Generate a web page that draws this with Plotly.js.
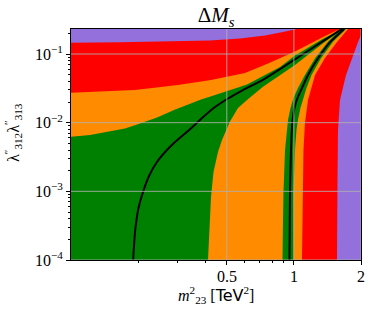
<!DOCTYPE html>
<html><head><meta charset="utf-8">
<script src="https://cdn.plot.ly/plotly-3.0.1.min.js"></script>
<style>html,body{margin:0;padding:0;background:#fff}</style>
</head><body><div id="chart" style="width:374px;height:316px"></div>
<script>
// axis limits
const xLimits = [0.1, 2];
const yLimits = [1e-4, 0.2314];
const xTicks = [0.5, 1, 2];
const xTickText = ['0.5', '1', '2'];
const xMinorTicks = [0.2, 0.3, 0.4, 0.6, 0.7, 0.8, 0.9];
const yTicks = [1e-4, 1e-3, 1e-2, 1e-1];
const yTickText = ['10<sup>−4</sup>', '10<sup>−3</sup>', '10<sup>−2</sup>', '10<sup>−1</sup>'];

// 3σ boundary (red | purple): upper-left branch and right branch
const redTopX = [0.1, 0.1659, 0.2781, 0.4204, 0.5731, 0.742, 0.8934, 1.033];
const redTopY = [0.1462, 0.1487, 0.1522, 0.1574, 0.1683, 0.1861, 0.2093, 0.2314];
const redRightX = [2.0, 1.940, 1.823, 1.713, 1.610, 1.577, 1.569, 1.561];
const redRightY = [0.1892, 0.1497, 0.0875, 0.0495, 0.0214, 0.00782, 0.00146, 0.0001];

// 2σ boundary (orange | red)
const orangeTopX = [0.1, 0.1937, 0.302, 0.4248, 0.6034, 0.7653, 1.011, 1.351, 1.610];
const orangeTopY = [0.0273, 0.0299, 0.0354, 0.0418, 0.0529, 0.0728, 0.1088, 0.1770, 0.2314];
const orangeRightX = [1.749, 1.561, 1.379, 1.244, 1.157, 1.121, 1.104, 1.093, 1.087];
const orangeRightY = [0.2314, 0.1497, 0.0875, 0.0495, 0.0214, 0.00989, 0.0040, 0.000748, 0.0001];

// 1σ boundary (green | orange)
const greenTopX = [0.1, 0.1217, 0.145, 0.1747, 0.204, 0.2431, 0.2898, 0.3419, 0.383, 0.4292, 0.5169, 0.616, 0.7268, 0.8663, 1.011, 1.351, 1.661];
const greenTopY = [0.00625, 0.00662, 0.00732, 0.00823, 0.00973, 0.0119, 0.0153, 0.01903, 0.02176, 0.02447, 0.0299, 0.0360, 0.0478, 0.0647, 0.0951, 0.1666, 0.2314];
const greenInAX = [0.4118, 0.4182, 0.4248, 0.4359, 0.4566, 0.4759, 0.496, 0.5169, 0.5614, 0.616, 0.7268, 0.8663, 1.011, 1.351, 1.545];
const greenInAY = [0.0001, 0.000273, 0.000827, 0.00191, 0.00374, 0.0056, 0.00782, 0.0104, 0.01636, 0.0214, 0.0334, 0.0495, 0.0692, 0.1432, 0.1956];
const greenInBX = [0.8888, 0.8934, 0.8979, 0.9122, 0.9265, 0.9409, 0.9656, 0.9959, 1.043, 1.121, 1.244, 1.422, 1.545];
const greenInBY = [0.0001, 0.000382, 0.000978, 0.0040, 0.00782, 0.01094, 0.01636, 0.02289, 0.0320, 0.0495, 0.0867, 0.1512, 0.1956];
const greenOutBX = [0.9959, 0.9959, 1.011, 1.027, 1.043, 1.070, 1.104, 1.139, 1.199, 1.323, 1.498, 1.696, 1.713];
const greenOutBY = [0.0001, 0.000978, 0.0040, 0.00782, 0.01094, 0.01636, 0.02289, 0.0320, 0.0495, 0.0867, 0.1512, 0.2238, 0.2314];

// central-value curves
const centralLeftX = [0.190, 0.1918, 0.1937, 0.1967, 0.2008, 0.2104, 0.2250, 0.2431, 0.2668, 0.2928, 0.3349, 0.383, 0.4337, 0.5064, 0.591, 0.7268, 0.8663, 1.011, 1.351, 1.640];
const centralLeftY = [0.0001, 0.0001654, 0.0002557, 0.000382, 0.000572, 0.000978, 0.00173, 0.002675, 0.00387, 0.00523, 0.00757, 0.01131, 0.01609, 0.0225, 0.0299, 0.04212, 0.0601, 0.0837, 0.1537, 0.2314];
const centralRightX = [0.9556, 0.9576, 0.9605, 0.9705, 0.9836, 1.006, 1.038, 1.087, 1.157, 1.283, 1.460, 1.661, 1.678];
const centralRightY = [0.0001, 0.000273, 0.000978, 0.0040, 0.00989, 0.01636, 0.02289, 0.0320, 0.0495, 0.0867, 0.1512, 0.2238, 0.2314];

const [x0, x1] = xLimits, [y0, y1] = yLimits;
const rev = a => a.slice().reverse();

const redPoly = {
  x: [x0, ...redTopX, x1, ...redRightX, x0],
  y: [y0, ...redTopY, y1, ...redRightY, y0]
};
const orangePoly = {
  x: [x0, ...orangeTopX, ...orangeRightX, x0],
  y: [y0, ...orangeTopY, ...orangeRightY, y0]
};
const greenPoly = {
  x: [x0, ...greenTopX, ...rev(greenOutBX), ...greenInBX, ...rev(greenInAX), x0],
  y: [y0, ...greenTopY, ...rev(greenOutBY), ...greenInBY, ...rev(greenInAY), y0]
};

function fillTrace(p, color) {
  return {type: 'scatter', mode: 'lines', x: p.x, y: p.y, fill: 'toself',
          fillcolor: color, line: {width: 0, color: color}, hoverinfo: 'skip'};
}
function curve(x, y) {
  return {type: 'scatter', mode: 'lines', x: x, y: y,
          line: {color: '#000', width: 2, shape: 'spline', smoothing: 0.5}, hoverinfo: 'skip'};
}

const data = [
  fillTrace(redPoly, '#FF0000'),
  fillTrace(orangePoly, '#FF8C00'),
  fillTrace(greenPoly, '#008000'),
  curve(centralLeftX, centralLeftY),
  curve(centralRightX, centralRightY)
];

const gridColor = 'rgba(176,176,176,0.85)';
const shapes = [];
xTicks.forEach(v => shapes.push({type: 'line', xref: 'x', yref: 'paper', x0: v, x1: v, y0: 0, y1: 1,
  line: {color: gridColor, width: 1}, layer: 'above'}));
yTicks.forEach(v => shapes.push({type: 'line', xref: 'paper', yref: 'y', x0: 0, x1: 1, y0: v, y1: v,
  line: {color: gridColor, width: 1}, layer: 'above'}));

const yMinor = [];
yTicks.forEach(d => { for (let k = 2; k <= 9; k++) { if (d * k <= y1) yMinor.push(d * k); } });

const serif = 'Liberation Serif';
const plotW = 290, plotH = 231;
const annotations = [
  {text: '<i>m</i><sup>2</sup><sub>23</sub> [<span style="font-family:DejaVu Sans">TeV</span><sup>2</sup>]',
   xref: 'paper', yref: 'paper', x: 0.5, y: -35 / plotH, xanchor: 'center', yanchor: 'middle',
   showarrow: false, font: {family: serif, size: 16, color: '#000'}},
  {text: 'λ<sup>″</sup><sub>312</sub>λ<sup>″</sup><sub>313</sub>',
   xref: 'paper', yref: 'paper', x: -58 / plotW, y: 127 / plotH, xanchor: 'center', yanchor: 'middle',
   textangle: -90, showarrow: false, font: {family: serif, size: 16, color: '#000'}}
];
// x tick labels (annotation x on a log axis is given as log10 of the value)
xTicks.forEach((v, i) => annotations.push({
  text: xTickText[i], xref: 'x', yref: 'paper', x: Math.log10(v), y: -16 / plotH,
  xanchor: 'center', yanchor: 'middle', showarrow: false, borderpad: 0,
  font: {family: serif, size: 16, color: '#000'}}));

const layout = {
  width: 374, height: 316,
  margin: {l: 71, r: 13, t: 29, b: 56, pad: 0},
  paper_bgcolor: '#ffffff',
  plot_bgcolor: '#9370DB',
  showlegend: false,
  font: {family: serif, size: 16, color: '#000'},
  title: {text: 'Δ<i>M</i><sub><i>s</i></sub>', font: {family: serif, size: 21, color: '#000'},
          x: 0.5, xref: 'paper', xanchor: 'center', y: 1 - 15 / 316, yref: 'container', yanchor: 'middle'},
  xaxis: {
    type: 'log', range: [Math.log10(x0), Math.log10(x1)], autorange: false,
    tickmode: 'array', tickvals: xTicks, ticktext: xTickText, showticklabels: false,
    ticks: 'outside', ticklen: 4, tickwidth: 1, tickcolor: '#000',
    minor: {tickmode: 'array', tickvals: xMinorTicks, ticks: 'outside', ticklen: 2, tickwidth: 1, tickcolor: '#000', showgrid: false},
    showgrid: false, zeroline: false,
    showline: true, mirror: true, linecolor: '#000', linewidth: 1
  },
  yaxis: {
    type: 'log', range: [Math.log10(y0), Math.log10(y1)], autorange: false,
    tickmode: 'array', tickvals: yTicks, ticktext: yTickText,
    ticks: 'outside', ticklen: 4, tickwidth: 1, tickcolor: '#000',
    minor: {tickmode: 'array', tickvals: yMinor, ticks: 'outside', ticklen: 2, tickwidth: 1, tickcolor: '#000', showgrid: false},
    showgrid: false, zeroline: false,
    showline: true, mirror: true, linecolor: '#000', linewidth: 1,
    tickfont: {family: serif, size: 16, color: '#000'}
  },
  shapes: shapes,
  annotations: annotations
};

Plotly.newPlot('chart', data, layout, {displayModeBar: false, staticPlot: true});
</script>
</body></html>
